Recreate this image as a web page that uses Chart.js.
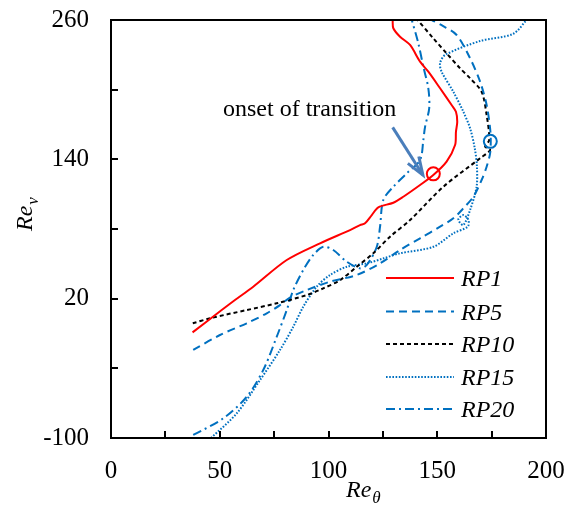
<!DOCTYPE html>
<html><head><meta charset="utf-8">
<script src="https://cdn.jsdelivr.net/npm/chart.js@4/dist/chart.umd.min.js"></script>
<style>html,body{margin:0;padding:0;background:#fff}</style>
</head><body>
<canvas id="c" width="566" height="509"></canvas>
<script>
// ---- data ----
const seriesNames = ['RP1', 'RP5', 'RP10', 'RP15', 'RP20'];

const rp1X = [37.5, 50.9, 57, 65.4, 80.8, 96.1, 109.9, 114.5, 116.8, 119.9, 122.9, 129.8, 134.4, 142.1, 148.2, 154.3, 158.2, 158.6, 159.2, 158.6, 156.6, 151.3, 145.9, 142.1, 137.5, 132.9, 129.8, 129.5];
const rp1Y = [-9, 10.2, 18.8, 30.3, 53.3, 67.7, 79.1, 83.4, 84.9, 92, 98.7, 102.6, 107.8, 117.9, 126.5, 138, 152.3, 163.8, 172.4, 181, 186.8, 201.2, 215.5, 224.1, 238.5, 245.6, 252.9, 260];

const rp5X = [37.8, 50.1, 62.4, 71.6, 77.7, 82.3, 90, 100.7, 113, 123.7, 132.9, 142.1, 151.3, 157.4, 162, 166.6, 170.4, 172.7, 174.3, 174.6, 174.3, 172.7, 169.7, 165.1, 158.9, 152, 147.5];
const rp5Y = [-24.2, -11.3, -1.2, 7.4, 14.5, 21, 27.4, 34.6, 40.4, 50.4, 61.9, 72, 82, 89.2, 97.8, 107.8, 122.2, 133.6, 145.2, 156.6, 166.7, 186.8, 206.9, 227, 247.1, 255.5, 260];

const rp10X = [37.6, 45.5, 62.4, 76.2, 90, 97.6, 105.3, 113, 120.6, 128.3, 137.5, 152.8, 169.7, 174.3, 172, 173.9, 172.7, 170.4, 165.1, 160.5, 154.3, 148.2, 141];
const rp10Y = [-1.2, 3.1, 10.2, 16, 23.1, 28.9, 36, 47.5, 59.1, 73.4, 87.7, 116.4, 140.9, 148, 151, 156.6, 178.2, 198.2, 209.8, 218.4, 231.3, 244.2, 260];

const rp15X = [46, 57.8, 68.5, 77.7, 83.8, 88.4, 94.6, 100.7, 108.4, 117.6, 125.2, 132.9, 148.2, 157.4, 164, 164.3, 162, 159.7, 162, 165.1, 168.1, 168.2, 167.2, 165.1, 162, 157.4, 152, 151.3, 153.6, 169.7, 184.8, 191.1];
const rp15Y = [-100, -78.8, -50.1, -24.2, -4.2, 13.1, 30.3, 40.4, 47.5, 50.4, 54.7, 59.1, 64.7, 76.3, 82, 88, 92, 88, 83.4, 96.4, 116.4, 135, 150, 166.7, 181, 198.2, 215.5, 222.7, 229.9, 241.9, 248, 260];

const rp20X = [37.8, 51.6, 62.4, 70, 76.2, 80.8, 83.8, 88.4, 93, 97.6, 102.2, 108.4, 114.5, 117.6, 122.2, 123.7, 125.2, 129.8, 136, 142.1, 143.6, 144.4, 146.3, 145.9, 143.6, 141.3, 138.3];
const rp20Y = [-97.4, -83.1, -64.5, -41.5, -12.8, 10.2, 27.4, 44.7, 57.6, 64.7, 61.9, 51.8, 46.1, 49, 64.7, 82, 105, 116.4, 128, 139.4, 156.6, 168.1, 183.9, 201.2, 219.8, 239.9, 260];

// onset-of-transition markers (red on RP1, blue on RP5)
const onsetX = [148.2, 174.4];
const onsetY = [127.5, 155.5];

// annotation arrow (data coords) and text
const annotationText = 'onset of transition';
const annotationPos = [51.5, 177.6];
const arrowFrom = [129.5, 167.5];
const arrowTo = [143.4, 126.5];

const xTicks = [0, 25, 50, 75, 100, 125, 150, 175, 200];
const xTickLabels = ['0', '', '50', '', '100', '', '150', '', '200'];
const yTicks = [-100, -40, 20, 80, 140, 200, 260];
const yTickLabels = ['-100', '', '20', '', '140', '', '260'];

// ---- styling ----
const RED = '#FF0000', BLUE = '#0070C0', BLACK = '#000000';
const SERIF = '"Liberation Serif", "Times New Roman", serif';

function pts(xs, ys) { return xs.map((x, i) => ({ x: x, y: ys[i] })); }

const styles = [
  { color: RED, dash: [] },
  { color: BLUE, dash: [8, 5] },
  { color: BLACK, dash: [4, 3] },
  { color: BLUE, dash: [1.6, 1.6] },
  { color: BLUE, dash: [9, 4, 2, 4] }
];
const seriesData = [pts(rp1X, rp1Y), pts(rp5X, rp5Y), pts(rp10X, rp10Y), pts(rp15X, rp15Y), pts(rp20X, rp20Y)];

const datasets = seriesNames.map((n, i) => ({
  label: n,
  data: seriesData[i],
  showLine: true,
  borderColor: styles[i].color,
  borderDash: styles[i].dash,
  borderWidth: 2,
  pointRadius: 0,
  tension: 0.3,
  fill: false
}));
datasets.unshift({
  label: 'onset',
  data: pts(onsetX, onsetY),
  showLine: false,
  pointRadius: 6.5,
  pointBorderWidth: 2,
  pointBackgroundColor: 'rgba(0,0,0,0)',
  pointBorderColor: [RED, BLUE],
  borderColor: RED
});

const decor = {
  id: 'decor',
  afterDatasetsDraw(chart) {
    const { ctx, chartArea: a, scales: { x, y } } = chart;
    ctx.save();

    // annotation arrow
    const x0 = x.getPixelForValue(arrowFrom[0]), y0 = y.getPixelForValue(arrowFrom[1]);
    const x1 = x.getPixelForValue(arrowTo[0]), y1 = y.getPixelForValue(arrowTo[1]);
    ctx.strokeStyle = '#4A7EBB';
    ctx.lineWidth = 3;
    ctx.lineCap = 'butt';
    ctx.beginPath(); ctx.moveTo(x0, y0); ctx.lineTo(x1, y1); ctx.stroke();
    const ang = Math.atan2(y0 - y1, x0 - x1);
    const L = 19, spread = 20 * Math.PI / 180;
    ctx.beginPath();
    ctx.moveTo(x1 + L * Math.cos(ang - spread), y1 + L * Math.sin(ang - spread));
    ctx.lineTo(x1, y1);
    ctx.lineTo(x1 + L * Math.cos(ang + spread), y1 + L * Math.sin(ang + spread));
    ctx.stroke();

    // annotation text
    ctx.fillStyle = '#000';
    ctx.font = '24px ' + SERIF;
    ctx.textAlign = 'left';
    ctx.textBaseline = 'alphabetic';
    ctx.fillText(annotationText, x.getPixelForValue(annotationPos[0]), y.getPixelForValue(annotationPos[1]));

    // legend inside plot
    const legX0 = 386, legX1 = 454, legTextX = 461;
    const legY = [278, 311.5, 344, 377, 409];
    seriesNames.forEach((n, i) => {
      const ds = chart.data.datasets[i + 1];
      ctx.strokeStyle = ds.borderColor;
      ctx.lineWidth = ds.borderWidth;
      ctx.setLineDash(ds.borderDash);
      ctx.beginPath(); ctx.moveTo(legX0, legY[i]); ctx.lineTo(legX1, legY[i]); ctx.stroke();
      ctx.setLineDash([]);
      ctx.fillStyle = '#000';
      ctx.font = 'italic 24px ' + SERIF;
      ctx.fillText(n, legTextX, legY[i] + 8);
    });

    // frame
    ctx.strokeStyle = '#000';
    ctx.lineWidth = 2;
    ctx.strokeRect(a.left, a.top, a.right - a.left, a.bottom - a.top);

    // inward ticks
    const TL = 7;
    ctx.beginPath();
    xTicks.forEach(v => {
      const px = Math.round(x.getPixelForValue(v));
      ctx.moveTo(px, a.bottom); ctx.lineTo(px, a.bottom - TL);
    });
    yTicks.forEach(v => {
      const py = Math.round(y.getPixelForValue(v));
      ctx.moveTo(a.left, py); ctx.lineTo(a.left + TL, py);
    });
    ctx.stroke();

    // axis titles
    ctx.fillStyle = '#000';
    ctx.textAlign = 'left';
    ctx.textBaseline = 'alphabetic';
    ctx.font = 'italic 24px ' + SERIF;
    const tx = 346, ty = 497;
    ctx.fillText('Re', tx, ty);
    const w = ctx.measureText('Re').width;
    ctx.font = 'italic 17px ' + SERIF;
    ctx.fillText('\u03B8', tx + w + 1, ty + 6);

    ctx.save();
    ctx.translate(32, 231);
    ctx.rotate(-Math.PI / 2);
    ctx.font = 'italic 24px ' + SERIF;
    ctx.fillText('Re', 0, 0);
    const w2 = ctx.measureText('Re').width;
    ctx.font = 'italic 17px ' + SERIF;
    ctx.fillText('\u03BD', w2 + 1, 6);
    ctx.restore();

    ctx.restore();
  }
};

new Chart(document.getElementById('c'), {
  type: 'scatter',
  data: { datasets: datasets },
  options: {
    responsive: false,
    animation: false,
    devicePixelRatio: 1,
    layout: { padding: { top: 20, right: 20, left: 0, bottom: 0 } },
    plugins: { legend: { display: false }, tooltip: { enabled: false } },
    scales: {
      x: {
        type: 'linear', min: 0, max: 200,
        afterBuildTicks: s => { s.ticks = xTicks.map(v => ({ value: v })); },
        afterFit: s => { s.height = 71; s.paddingLeft = 0; s.paddingRight = 0; },
        grid: { display: false, drawTicks: false },
        border: { display: false },
        ticks: {
          autoSkip: false, maxRotation: 0, padding: 18, color: '#000',
          font: { family: SERIF, size: 25 },
          callback: v => xTickLabels[xTicks.indexOf(v)]
        }
      },
      y: {
        type: 'linear', min: -100, max: 260,
        afterBuildTicks: s => { s.ticks = yTicks.map(v => ({ value: v })); },
        afterFit: s => { s.width = 111; s.paddingTop = 0; s.paddingBottom = 0; },
        grid: { display: false, drawTicks: false },
        border: { display: false },
        ticks: {
          autoSkip: false, padding: 22, color: '#000',
          font: { family: SERIF, size: 25 },
          callback: v => yTickLabels[yTicks.indexOf(v)]
        }
      }
    }
  },
  plugins: [decor]
});
</script>
</body></html>
